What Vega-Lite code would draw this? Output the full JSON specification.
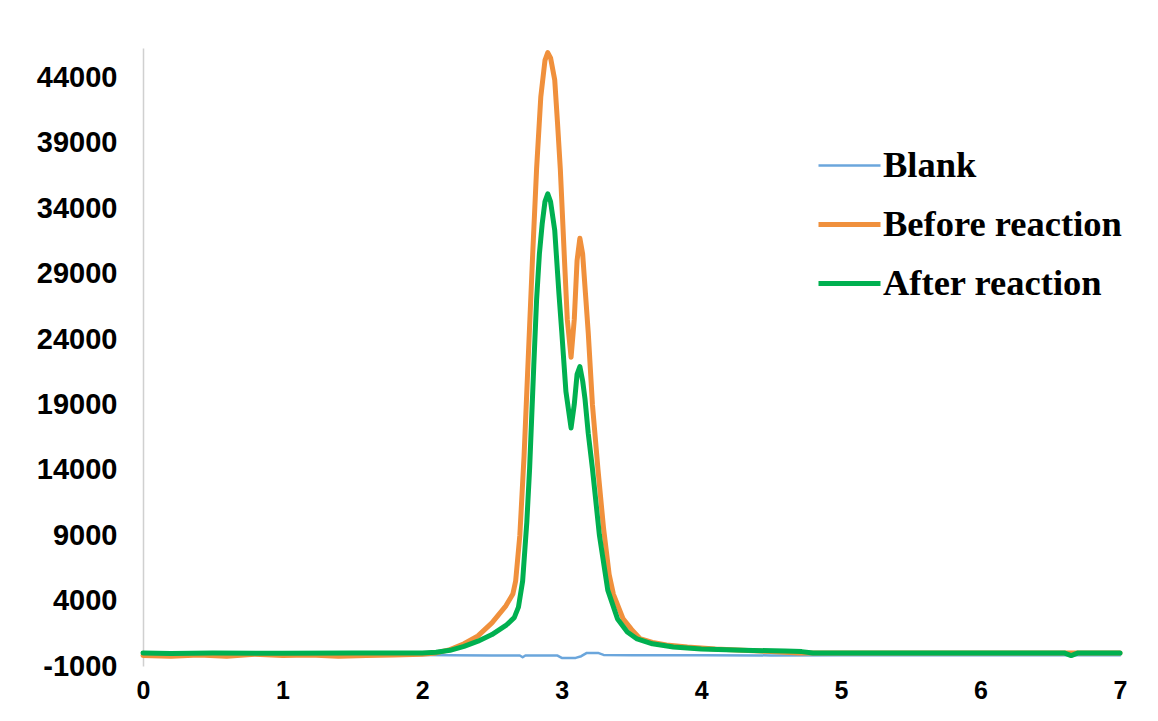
{
  "$schema": "https://vega.github.io/schema/vega-lite/v6.json",
  "width": 977,
  "height": 618,
  "autosize": {"type": "none"},
  "padding": {"left": 143, "top": 48, "right": 38, "bottom": 55},
  "background": "white",
  "config": {"view": {"stroke": null}},
  "datasets": {
    "blank": [
      {"t":0,"v":-150},{"t":0.5,"v":-180},{"t":1,"v":-150},{"t":1.5,"v":-170},{"t":2,"v":-150},{"t":2.2,"v":-180},{"t":2.5,"v":-200},{"t":2.7,"v":-200},{"t":2.72,"v":-330},{"t":2.74,"v":-200},{"t":2.97,"v":-200},{"t":3.0,"v":-380},{"t":3.1,"v":-380},{"t":3.14,"v":-250},{"t":3.18,"v":0},{"t":3.26,"v":0},{"t":3.3,"v":-150},{"t":3.5,"v":-170},{"t":4.0,"v":-170},{"t":4.5,"v":-190},{"t":5,"v":-170},{"t":6,"v":-170},{"t":7,"v":-170}
    ],
    "before": [
      {"t":0,"v":-200},{"t":0.2,"v":-250},{"t":0.4,"v":-150},{"t":0.6,"v":-250},{"t":0.8,"v":-100},{"t":1.0,"v":-200},{"t":1.2,"v":-150},{"t":1.4,"v":-250},{"t":1.6,"v":-200},{"t":1.8,"v":-150},{"t":2.0,"v":-100},{"t":2.1,"v":0},{"t":2.2,"v":250},{"t":2.3,"v":700},{"t":2.4,"v":1300},{"t":2.5,"v":2300},{"t":2.6,"v":3600},{"t":2.65,"v":4500},{"t":2.67,"v":5500},{"t":2.7,"v":9000},{"t":2.73,"v":15000},{"t":2.76,"v":22500},{"t":2.79,"v":30000},{"t":2.82,"v":37000},{"t":2.85,"v":42500},{"t":2.88,"v":45300},{"t":2.9,"v":45900},{"t":2.92,"v":45500},{"t":2.95,"v":43800},{"t":2.97,"v":40500},{"t":2.99,"v":37000},{"t":3.02,"v":30000},{"t":3.04,"v":25500},{"t":3.067,"v":22600},{"t":3.09,"v":25500},{"t":3.11,"v":30000},{"t":3.13,"v":31700},{"t":3.15,"v":30500},{"t":3.17,"v":27500},{"t":3.19,"v":24500},{"t":3.22,"v":19000},{"t":3.26,"v":14000},{"t":3.3,"v":9500},{"t":3.34,"v":6000},{"t":3.37,"v":4500},{"t":3.44,"v":2600},{"t":3.5,"v":1800},{"t":3.56,"v":1100},{"t":3.65,"v":800},{"t":3.75,"v":600},{"t":3.9,"v":450},{"t":4.1,"v":300},{"t":4.3,"v":200},{"t":4.5,"v":100},{"t":4.7,"v":0},{"t":5,"v":0},{"t":6,"v":0},{"t":7,"v":0}
    ],
    "after": [
      {"t":0,"v":0},{"t":0.2,"v":-50},{"t":0.5,"v":0},{"t":1,"v":-30},{"t":1.5,"v":0},{"t":2,"v":0},{"t":2.1,"v":50},{"t":2.2,"v":200},{"t":2.3,"v":500},{"t":2.4,"v":900},{"t":2.5,"v":1400},{"t":2.6,"v":2100},{"t":2.66,"v":2700},{"t":2.69,"v":3500},{"t":2.72,"v":5500},{"t":2.75,"v":10000},{"t":2.77,"v":14100},{"t":2.8,"v":22000},{"t":2.82,"v":27000},{"t":2.84,"v":30500},{"t":2.86,"v":32800},{"t":2.88,"v":34500},{"t":2.9,"v":35100},{"t":2.92,"v":34500},{"t":2.95,"v":32300},{"t":2.98,"v":27500},{"t":3.0,"v":24600},{"t":3.03,"v":20000},{"t":3.067,"v":17200},{"t":3.09,"v":19000},{"t":3.11,"v":21300},{"t":3.13,"v":21900},{"t":3.15,"v":20800},{"t":3.167,"v":19400},{"t":3.19,"v":16800},{"t":3.22,"v":14100},{"t":3.27,"v":9000},{"t":3.33,"v":4800},{"t":3.4,"v":2600},{"t":3.47,"v":1600},{"t":3.54,"v":1070},{"t":3.65,"v":700},{"t":3.8,"v":460},{"t":4.0,"v":300},{"t":4.3,"v":200},{"t":4.6,"v":150},{"t":4.72,"v":100},{"t":4.8,"v":0},{"t":5,"v":0},{"t":6,"v":0},{"t":6.6,"v":0},{"t":6.65,"v":-200},{"t":6.7,"v":0},{"t":7,"v":0}
    ]
  },
  "encoding": {
    "x": {
      "field": "t", "type": "quantitative",
      "scale": {"domain": [0, 7], "nice": false, "zero": false},
      "axis": {"title": null, "values": [0,1,2,3,4,5,6,7], "format": "d", "labelFlush": false, "domain": false, "ticks": false, "tickSize": 0, "grid": false,
               "labelFont": "Liberation Sans", "labelFontWeight": "bold", "labelFontSize": 25, "labelColor": "#000000", "labelPadding": 12}
    },
    "y": {
      "field": "v", "type": "quantitative",
      "scale": {"domain": [-1000, 46250], "nice": false, "zero": false},
      "axis": {"title": null, "values": [-1000,4000,9000,14000,19000,24000,29000,34000,39000,44000], "labelExpr": "'' + datum.value",
               "domain": true, "domainColor": "#d0d0d0", "domainWidth": 1.5, "ticks": false, "tickSize": 0, "grid": false,
               "labelFont": "Liberation Sans", "labelFontWeight": "bold", "labelFontSize": 29, "labelColor": "#000000", "labelPadding": 26}
    },
    "color": {
      "field": "series", "type": "nominal",
      "scale": {"domain": ["Blank", "Before reaction", "After reaction"], "range": ["#6BA6DC", "#F0903C", "#00B050"]},
      "legend": {
        "title": null, "orient": "none", "legendX": 673, "legendY": 85,
        "symbolType": "stroke", "symbolSize": 3844,
        "labelFont": "Liberation Serif", "labelFontWeight": "bold", "labelFontSize": 36.5, "labelColor": "#000000",
        "labelOffset": 0, "rowPadding": 7, "labelLimit": 400
      }
    },
    "strokeWidth": {
      "field": "series", "type": "nominal",
      "scale": {"type": "ordinal", "domain": ["Blank", "Before reaction", "After reaction"], "range": [2.5, 5, 5]},
      "legend": {
        "title": null, "orient": "none", "legendX": 673, "legendY": 85,
        "symbolType": "stroke", "symbolSize": 3844,
        "labelFont": "Liberation Serif", "labelFontWeight": "bold", "labelFontSize": 36.5, "labelColor": "#000000",
        "labelOffset": 0, "rowPadding": 7, "labelLimit": 400
      }
    }
  },
  "layer": [
    {
      "data": {"name": "blank"},
      "transform": [{"calculate": "'Blank'", "as": "series"}],
      "mark": {"type": "line", "strokeCap": "round", "strokeJoin": "round"}
    },
    {
      "data": {"name": "before"},
      "transform": [{"calculate": "'Before reaction'", "as": "series"}],
      "mark": {"type": "line", "strokeCap": "round", "strokeJoin": "round"}
    },
    {
      "data": {"name": "after"},
      "transform": [{"calculate": "'After reaction'", "as": "series"}],
      "mark": {"type": "line", "strokeCap": "round", "strokeJoin": "round"}
    }
  ]
}
